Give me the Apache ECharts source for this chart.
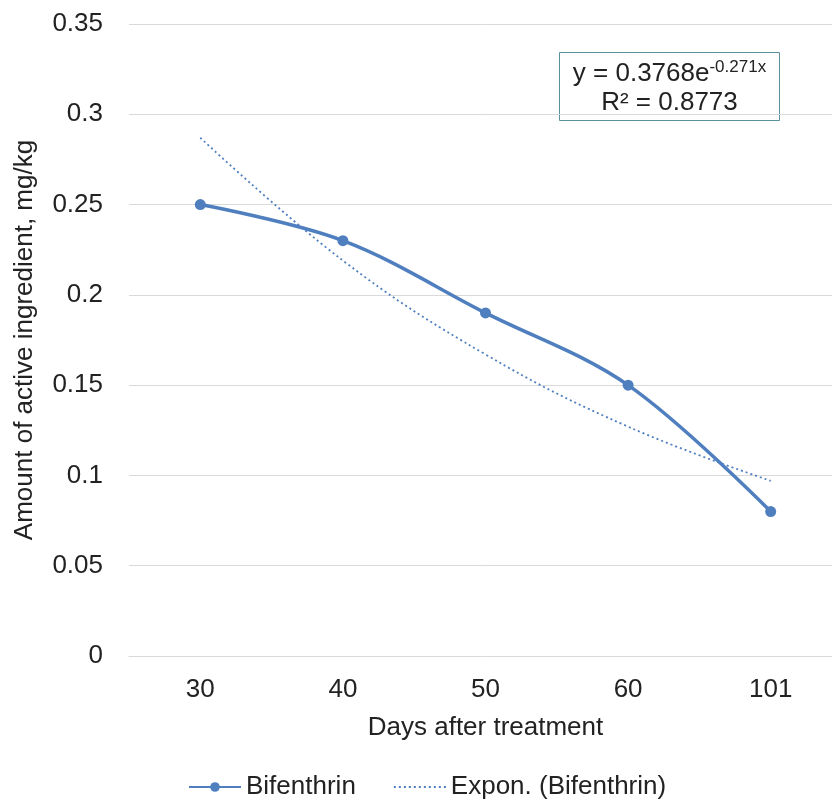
<!DOCTYPE html>
<html>
<head>
    <meta charset="utf-8">
    <title>Bifenthrin</title>
    <script src="https://cdn.jsdelivr.net/npm/echarts@6/dist/echarts.min.js"></script>
    <style>
        html, body { margin: 0; padding: 0; background: #fff; overflow: hidden; }
        /* the plot runs slightly past the right edge of the original picture */
        #chart { width: 842px; height: 801px; }
    </style>
</head>
<body>
    <div id="chart"></div>
    <script type="text/javascript">
        // data
        var days = ['30', '40', '50', '60', '101'];
        var bifenthrin = [0.25, 0.23, 0.19, 0.15, 0.08];
        var expon = [0.287, 0.219, 0.167, 0.127, 0.097];
        var yTicks = [0, 0.05, 0.1, 0.15, 0.2, 0.25, 0.3, 0.35];

        var blue = '#4f7fbf';
        var font = 'Liberation Sans, Arial, sans-serif';
        var fs = 26;

        var myChart = echarts.init(document.getElementById('chart'));

        var option = {
            animation: false,
            textStyle: { fontFamily: font },
            grid: {
                left: 129,
                top: 24,
                right: 0,
                height: 632
            },
            legend: {
                top: 769,
                left: 183,
                itemWidth: 52,
                itemHeight: 12,
                itemGap: 37,
                textStyle: { fontSize: fs, color: '#222', fontFamily: font },
                data: ['Bifenthrin', {
                    name: 'Expon. (Bifenthrin)',
                    itemStyle: { opacity: 0 }
                }]
            },
            xAxis: {
                type: 'category',
                data: days,
                name: 'Days after treatment',
                nameLocation: 'middle',
                nameGap: 59,
                nameTextStyle: { fontSize: fs, color: '#222' },
                axisLine: { lineStyle: { color: '#d9d9d9' } },
                axisTick: { show: false },
                axisLabel: { fontSize: fs, color: '#222', margin: 21 }
            },
            yAxis: {
                type: 'value',
                min: yTicks[0],
                max: yTicks[yTicks.length - 1],
                interval: 0.05,
                name: 'Amount of active ingredient, mg/kg',
                nameLocation: 'middle',
                nameGap: 91,
                nameTextStyle: { fontSize: fs, color: '#222' },
                axisLine: { show: false },
                axisTick: { show: false },
                splitLine: { lineStyle: { color: '#d9d9d9' } },
                axisLabel: {
                    fontSize: fs, color: '#222', margin: 26,
                    formatter: function (v) { return String(+v.toFixed(2)); }
                }
            },
            graphic: [{
                type: 'group',
                left: 559,
                top: 52,
                children: [{
                    type: 'rect',
                    shape: { x: 0, y: 0, width: 220, height: 68 },
                    style: { fill: '#fff', stroke: '#5a8f9f', lineWidth: 1 }
                }, {
                    type: 'text',
                    x: 110, y: 21,
                    style: {
                        text: '{a|y = 0.3768e}{s|-0.271x}',
                        align: 'center',
                        verticalAlign: 'middle',
                        rich: {
                            a: { fontSize: fs, fontFamily: font, fill: '#222' },
                            s: { fontSize: 17, fontFamily: font, fill: '#222', verticalAlign: 'top', padding: [0, 0, 12, 0] }
                        }
                    }
                }, {
                    type: 'text',
                    x: 110, y: 50,
                    style: {
                        text: 'R² = 0.8773',
                        align: 'center',
                        verticalAlign: 'middle',
                        fontSize: fs, fontFamily: font, fill: '#222'
                    }
                }]
            }],
            series: [{
                name: 'Bifenthrin',
                type: 'line',
                data: bifenthrin,
                smooth: 0.35,
                symbol: 'circle',
                symbolSize: 11,
                z: 3,
                itemStyle: { color: blue },
                lineStyle: { color: blue, width: 3.5 }
            }, {
                name: 'Expon. (Bifenthrin)',
                type: 'line',
                data: expon,
                smooth: 0.4,
                showSymbol: false,
                symbol: 'none',
                z: 2,
                itemStyle: { color: blue },
                lineStyle: { color: blue, width: 1.8, type: [2, 3] }
            }]
        };

        myChart.setOption(option);
    </script>
</body>
</html>
